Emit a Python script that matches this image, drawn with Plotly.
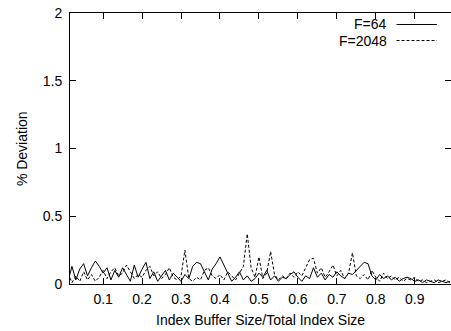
import plotly.graph_objects as go

# Buffer fraction (x) and percentage deviation for two fan-out settings
buffer_frac = [round(0.01 * i, 2) for i in range(1, 100)]

dev_f64 = [
    0.02, 0.13, 0.03, 0.11, 0.15, 0.06, 0.12, 0.17, 0.13, 0.08,
    0.12, 0.03, 0.10, 0.05, 0.12, 0.07, 0.02, 0.14, 0.05, 0.11,
    0.16, 0.04, 0.09, 0.02, 0.06, 0.10, 0.03, 0.08, 0.05, 0.02,
    0.07, 0.04, 0.13, 0.16, 0.15, 0.09, 0.03, 0.11, 0.15, 0.20,
    0.14, 0.07, 0.02, 0.05, 0.09, 0.03, 0.06, 0.02, 0.04, 0.08,
    0.05, 0.10, 0.03, 0.06, 0.02, 0.05, 0.04, 0.07, 0.09, 0.05,
    0.02, 0.06, 0.04, 0.12, 0.05, 0.08, 0.03, 0.07, 0.05, 0.09,
    0.06, 0.04, 0.08, 0.07, 0.10, 0.13, 0.16, 0.15, 0.06, 0.03,
    0.07, 0.04, 0.06, 0.03, 0.05, 0.02, 0.04, 0.05, 0.04, 0.02,
    0.03, 0.01, 0.03, 0.02, 0.01, 0.03, 0.02, 0.01, 0.02,
]

dev_f2048 = [
    0.08, 0.01, 0.06, 0.02, 0.09, 0.03, 0.07, 0.02, 0.05, 0.10,
    0.04, 0.09, 0.12, 0.06, 0.08, 0.14, 0.09, 0.04, 0.07, 0.05,
    0.10, 0.13, 0.06, 0.09, 0.04, 0.07, 0.12, 0.05, 0.03, 0.06,
    0.25, 0.04, 0.02, 0.05, 0.03, 0.10, 0.12, 0.06, 0.04, 0.07,
    0.03, 0.09, 0.06, 0.03, 0.08, 0.13, 0.37, 0.12, 0.05, 0.20,
    0.04, 0.08, 0.24, 0.07, 0.03, 0.06, 0.04, 0.08, 0.05, 0.09,
    0.06, 0.12, 0.18, 0.19, 0.08, 0.12, 0.05, 0.09, 0.14, 0.06,
    0.10, 0.04, 0.08, 0.23, 0.06, 0.04, 0.07, 0.03, 0.10, 0.05,
    0.02, 0.08, 0.04, 0.06, 0.03, 0.05, 0.02, 0.04, 0.03, 0.05,
    0.02, 0.03, 0.01, 0.02, 0.03, 0.01, 0.02, 0.03, 0.01,
]

series_names = ["F=64", "F=2048"]
series_dash = ["solid", "3px,2px"]

x_ticks = [0.1, 0.2, 0.3, 0.4, 0.5, 0.6, 0.7, 0.8, 0.9]
y_ticks = [0, 0.5, 1, 1.5, 2]
y_tick_text = ["0", "0.5", "1", "1.5", "2"]

FONT = dict(family="Liberation Sans, Arial, sans-serif", size=14, color="black")

fig = go.Figure()
for name, ys, dash in zip(series_names, [dev_f64, dev_f2048], series_dash):
    fig.add_trace(go.Scatter(
        x=buffer_frac, y=ys, mode="lines", name=name,
        line=dict(color="black", width=1, dash=dash),
        showlegend=False,
    ))

axis_common = dict(
    showgrid=False, zeroline=False, showline=True, linecolor="black",
    linewidth=1, mirror="ticks", ticks="inside", ticklen=6,
    tickcolor="black", tickwidth=1, tickfont=FONT,
)

fig.update_layout(
    width=451, height=331,
    margin=dict(l=70, r=0, t=13, b=47),
    paper_bgcolor="white", plot_bgcolor="white",
    font=FONT,
    xaxis=dict(range=[0.015, 0.993], tickvals=x_ticks,
               ticktext=[f"{v:.1f}" for v in x_ticks],
               ticklabelstandoff=2, **axis_common),
    yaxis=dict(range=[0, 2], tickvals=y_ticks, ticktext=y_tick_text,
               ticklabelstandoff=4, **axis_common),
)

# Axis titles
fig.add_annotation(text="Index Buffer Size/Total Index Size", xref="paper",
                   yref="paper", x=0.5, y=-0.133, xanchor="center",
                   yanchor="middle", showarrow=False, font=FONT)
fig.add_annotation(text="% Deviation", xref="paper", yref="paper",
                   x=-0.127, y=0.5, textangle=-90, xanchor="center",
                   yanchor="middle", showarrow=False, font=FONT)

# Key in the top-right corner, just below the mirrored top ticks:
# label on the left, line sample on the right
key_rows_y = [0.9576, 0.8985]
for name, dash, ky in zip(series_names, series_dash, key_rows_y):
    fig.add_annotation(text=name, xref="paper", yref="paper", x=0.835, y=ky,
                       xanchor="right", yanchor="middle", showarrow=False,
                       borderpad=0, font=FONT)
    fig.add_shape(type="line", xref="paper", yref="paper",
                  x0=0.857, x1=0.963, y0=ky, y1=ky,
                  line=dict(color="black", width=1, dash=dash))

fig.write_html("out.html")
